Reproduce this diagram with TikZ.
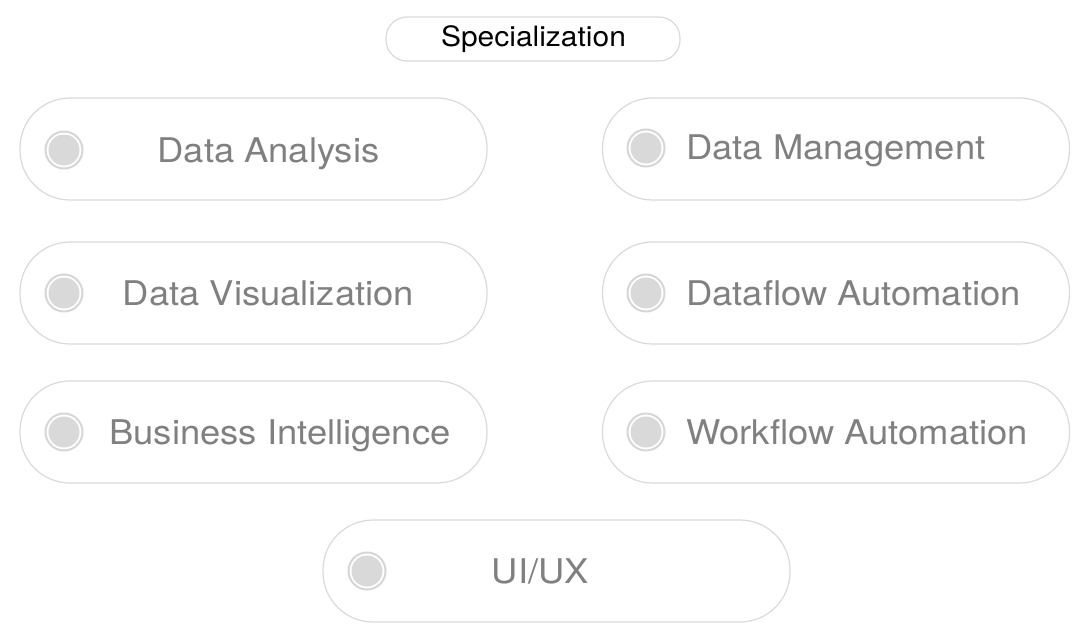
\documentclass[tikz,border=0pt]{standalone}
\usepackage{fontspec}
\setmainfont{TeX Gyre Heros}[FakeStretch=1.07]
\usepackage{xcolor}
\usepackage{tikz}
\usetikzlibrary{positioning}
\definecolor{pillline}{RGB}{218, 218, 218}
\definecolor{dotfill}{RGB}{217, 217, 217}
\definecolor{dotring}{RGB}{214, 214, 214}
\definecolor{labelgray}{RGB}{128, 128, 128}

\begin{document}
\begin{tikzpicture}[
    x=1pt, y=-1pt,
    pill/.style={draw=pillline, line width=1.2pt, fill=white, rounded corners=50pt, minimum width=467pt, minimum height=102pt, inner sep=0pt},
    titlepill/.style={draw=pillline, line width=1.2pt, fill=white, rounded corners=21pt, minimum width=294pt, minimum height=44pt, inner sep=0pt},
    radioring/.style={circle, draw=dotring, line width=2pt, fill=white, minimum size=37pt, inner sep=0pt},
    radiodot/.style={circle, fill=dotfill, minimum size=31pt, inner sep=0pt},
    itemtext/.style={text=labelgray, font=\fontsize{34}{40}\selectfont, inner sep=0pt, anchor=base},
    itemtextleft/.style={itemtext, anchor=base west}
]
    \useasboundingbox (0,0) rectangle (1091,642);

    % Title
    \node[titlepill] (titlebox) at (533, 39) {};
    \node[font=\fontsize{28}{32}\selectfont, inner sep=0pt, anchor=base] (title) at (533.5, 46) {Specialization};

    % Left column
    \node[pill] (analysis) at (253.5, 149) {};
    \node[radioring] (analysisring) at (64, 150) {};
    \node[radiodot] (analysisdot) at (64, 150) {};
    \node[itemtext] (analysislabel) at (268.5, 162) {Data Analysis};

    \node[pill] (visual) at (253.5, 293) {};
    \node[radioring] (visualring) at (64, 293) {};
    \node[radiodot] (visualdot) at (64, 293) {};
    \node[itemtext] (visuallabel) at (268.5, 305) {Data Visualization};

    \node[pill] (business) at (253.5, 432) {};
    \node[radioring] (businessring) at (64, 432) {};
    \node[radiodot] (businessdot) at (64, 432) {};
    \node[itemtext] (businesslabel) at (280, 444) {Business Intelligence};

    % Right column
    \node[pill] (manage) at (836, 149) {};
    \node[radioring] (managering) at (646, 148) {};
    \node[radiodot] (managedot) at (646, 148) {};
    \node[itemtextleft] (managelabel) at (686, 159) {Data Management};

    \node[pill] (dataflow) at (836, 293) {};
    \node[radioring] (dataflowring) at (646, 293) {};
    \node[radiodot] (dataflowdot) at (646, 293) {};
    \node[itemtextleft] (dataflowlabel) at (686, 305) {Dataflow Automation};

    \node[pill] (workflow) at (836, 432) {};
    \node[radioring] (workflowring) at (646, 432) {};
    \node[radiodot] (workflowdot) at (646, 432) {};
    \node[itemtextleft] (workflowlabel) at (686, 444) {Workflow Automation};

    % Bottom
    \node[pill] (uiux) at (556.5, 571) {};
    \node[radioring] (uiuxring) at (367, 571) {};
    \node[radiodot] (uiuxdot) at (367, 571) {};
    \node[itemtext] (uiuxlabel) at (540.5, 583) {UI/UX};

\end{tikzpicture}
\end{document}
